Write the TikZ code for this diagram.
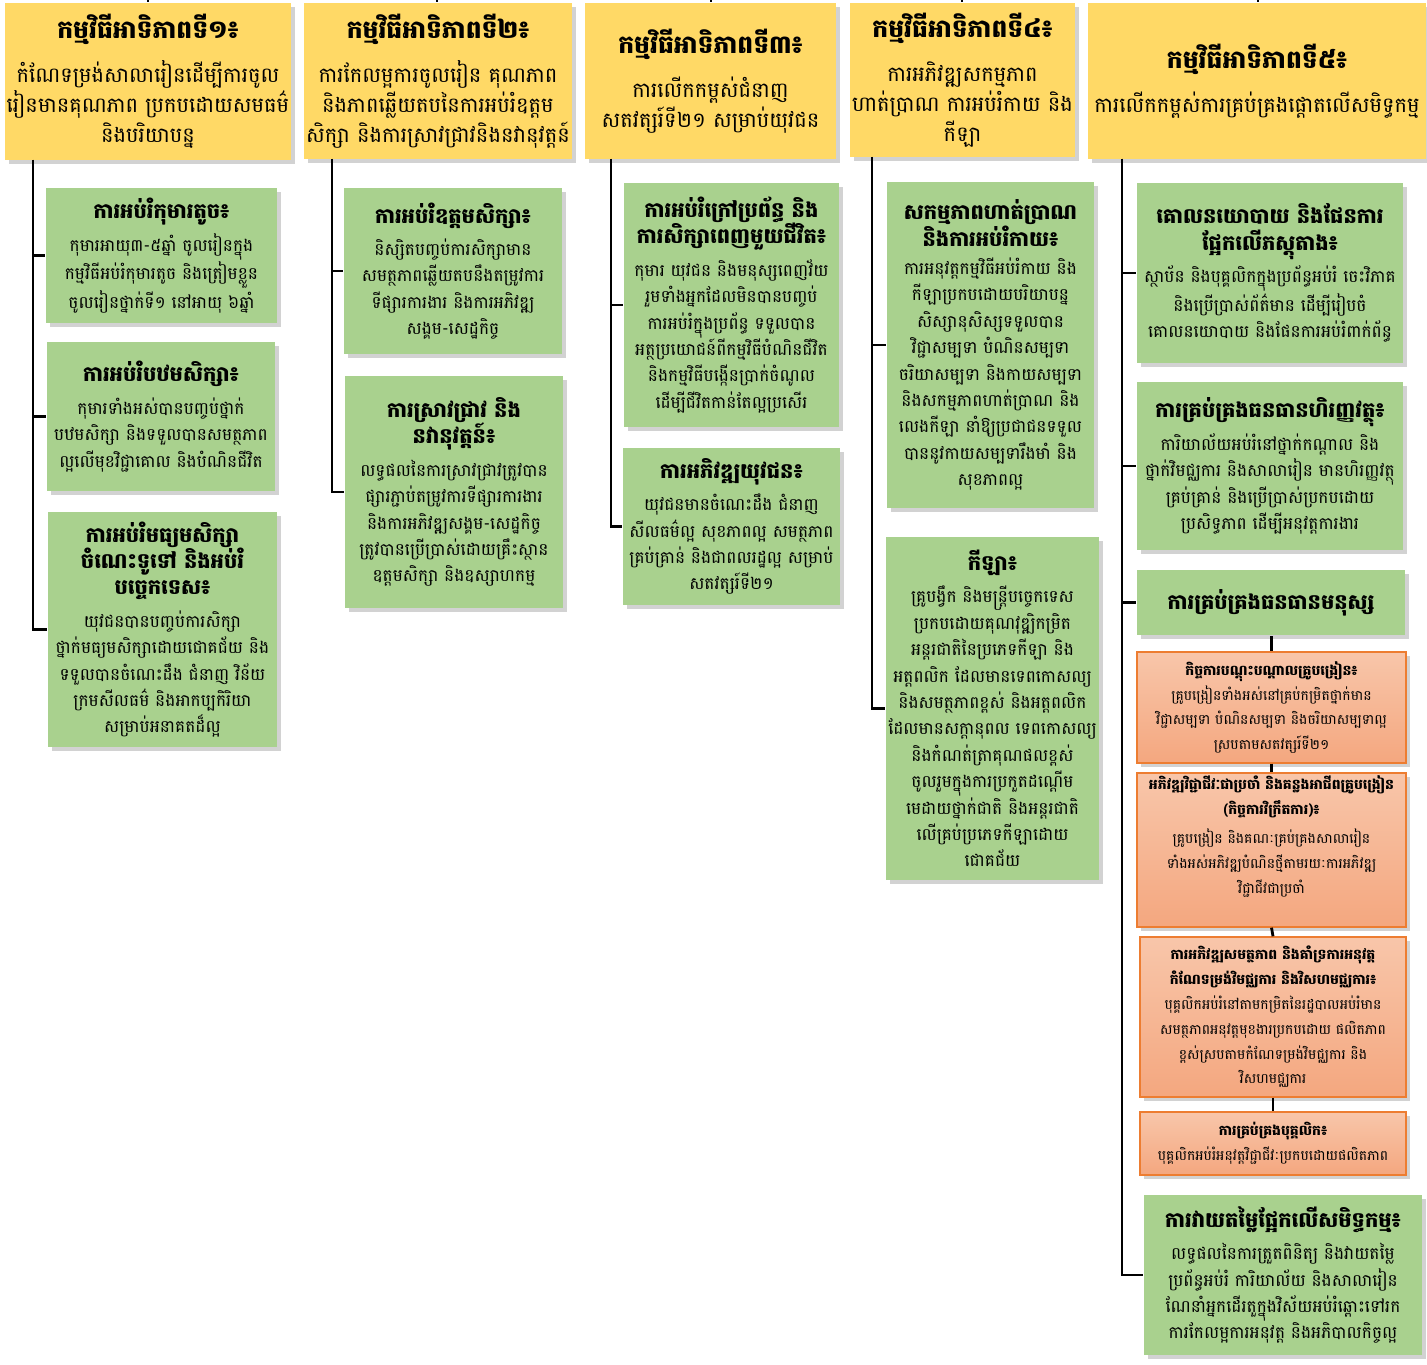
\documentclass[tikz,border=0pt]{standalone}
\usepackage{fontspec}
\setmainfont[Script=Khmer]{Battambang}
\usetikzlibrary{shadows}

\definecolor{prioyellow}{HTML}{FFD966}
\definecolor{goalgreen}{HTML}{A9D18E}
\definecolor{taskup}{HTML}{F8C6AA}
\definecolor{tasklow}{HTML}{F4A77F}
\definecolor{taskedge}{HTML}{ED7D31}

\newcommand\ttl[2][10.5]{{\fontsize{#1}{13}\selectfont\bfseries #2}}

\begin{document}
\begin{tikzpicture}[x=0.5pt,y=-0.5pt,line width=1.4pt,
    wh/.style 2 args={minimum width=#1*0.5pt,minimum height=#2*0.5pt},
    box/.style={align=center,inner sep=1pt,
      drop shadow={shadow xshift=2pt,shadow yshift=-2pt,opacity=0.35}},
    prio/.style={box,fill=prioyellow,font=\fontsize{10.5}{15}\selectfont},
    goal/.style={box,fill=goalgreen,font=\fontsize{8.5}{13.2}\selectfont},
    task/.style={box,draw=taskedge,line width=0.7pt,top color=taskup,
      bottom color=tasklow,font=\fontsize{7}{12.4}\selectfont}]
  \useasboundingbox[fill=white] (0,0) rectangle (1427,1364);

  % top row
  \node[prio,wh={286}{157}] (h1) at (148,81.5)
    {\ttl[12.5]{កម្មវិធីអាទិភាពទី១៖}\\[7pt]
     កំណែទម្រង់សាលារៀនដើម្បីការចូល\\
     រៀនមានគុណភាព ប្រកបដោយសមធម៌\\
     និងបរិយាបន្ន};
  \node[prio,wh={268}{156}] (h2) at (438,81)
    {\ttl[12.5]{កម្មវិធីអាទិភាពទី២៖}\\[7pt]
     ការកែលម្អការចូលរៀន គុណភាព\\
     និងភាពឆ្លើយតបនៃការអប់រំឧត្តម\\
     សិក្សា និងការស្រាវជ្រាវនិងនវានុវត្តន៍};
  \node[prio,wh={251}{156}] (h3) at (710.5,81)
    {\ttl[12.5]{កម្មវិធីអាទិភាពទី៣៖}\\[7pt]
     ការលើកកម្ពស់ជំនាញ\\
     សតវត្សរ៍ទី២១ សម្រាប់យុវជន};
  \node[prio,wh={225}{154}] (h4) at (962.5,80.5)
    {\ttl[12.5]{កម្មវិធីអាទិភាពទី៤៖}\\[7pt]
     ការអភិវឌ្ឍសកម្មភាព\\
     ហាត់ប្រាណ ការអប់រំកាយ និង\\
     កីឡា};
  \node[prio,wh={338}{156}] (h5) at (1257,81)
    {\ttl[12.5]{កម្មវិធីអាទិភាពទី៥៖}\\[7pt]
     ការលើកកម្ពស់ការគ្រប់គ្រងផ្តោតលើសមិទ្ធកម្ម};

  \foreach \h/\x in {h1/148,h2/437,h3/711,h4/962,h5/1258}{
    \coordinate (t\h) at (\x,0);
    \draw (t\h) -- (t\h |- \h.north);
  }

  % column 1
  \node[goal,wh={231}{135}] (g11) at (161.5,255.5)
    {\ttl{ការអប់រំកុមារតូច៖}\\[3pt]
     កុមារអាយុ៣-៥ឆ្នាំ ចូលរៀនក្នុង\\
     កម្មវិធីអប់រំកុមារតូច និងត្រៀមខ្លួន\\
     ចូលរៀនថ្នាក់ទី១ នៅអាយុ ៦ឆ្នាំ};
  \node[goal,wh={228}{149}] (g12) at (161,416.5)
    {\ttl{ការអប់រំបឋមសិក្សា៖}\\[3pt]
     កុមារទាំងអស់បានបញ្ចប់ថ្នាក់\\
     បឋមសិក្សា និងទទួលបានសមត្ថភាព\\
     ល្អលើមុខវិជ្ជាគោល និងបំណិនជីវិត};
  \node[goal,wh={229}{235}] (g13) at (162.5,629.5)
    {\ttl{ការអប់រំមធ្យមសិក្សា}\\
     \ttl{ចំណេះទូទៅ និងអប់រំ}\\
     \ttl{បច្ចេកទេស៖}\\[3pt]
     យុវជនបានបញ្ចប់ការសិក្សា\\
     ថ្នាក់មធ្យមសិក្សាដោយជោគជ័យ និង\\
     ទទួលបានចំណេះដឹង ជំនាញ វិន័យ\\
     ក្រមសីលធម៌ និងអាកប្បកិរិយា\\
     សម្រាប់អនាគតដ៏ល្អ};
  \coordinate (s1) at (33,160);
  \foreach \g in {g11,g12,g13}
    \draw (s1) |- (\g.west);

  % column 2
  \node[goal,wh={218}{166}] (g21) at (453,271)
    {\ttl{ការអប់រំឧត្តមសិក្សា៖}\\[3pt]
     និស្សិតបញ្ចប់ការសិក្សាមាន\\
     សមត្ថភាពឆ្លើយតបនឹងតម្រូវការ\\
     ទីផ្សារការងារ និងការអភិវឌ្ឍ\\
     សង្គម-សេដ្ឋកិច្ច};
  \node[goal,wh={218}{232}] (g22) at (454,492)
    {\ttl{ការស្រាវជ្រាវ និង}\\
     \ttl{នវានុវត្តន៍៖}\\[3pt]
     លទ្ធផលនៃការស្រាវជ្រាវត្រូវបាន\\
     ផ្សារភ្ជាប់តម្រូវការទីផ្សារការងារ\\
     និងការអភិវឌ្ឍសង្គម-សេដ្ឋកិច្ច\\
     ត្រូវបានប្រើប្រាស់ដោយគ្រឹះស្ថាន\\
     ឧត្តមសិក្សា និងឧស្សាហកម្ម};
  \coordinate (s2) at (332,159);
  \foreach \g in {g21,g22}
    \draw (s2) |- (\g.west);

  % column 3
  \node[goal,wh={215}{244}] (g31) at (731.5,305)
    {\ttl{ការអប់រំក្រៅប្រព័ន្ធ និង}\\
     \ttl{ការសិក្សាពេញមួយជីវិត៖}\\[3pt]
     កុមារ យុវជន និងមនុស្សពេញវ័យ\\
     រួមទាំងអ្នកដែលមិនបានបញ្ចប់\\
     ការអប់រំក្នុងប្រព័ន្ធ ទទួលបាន\\
     អត្ថប្រយោជន៍ពីកម្មវិធីបំណិនជីវិត\\
     និងកម្មវិធីបង្កើនប្រាក់ចំណូល\\
     ដើម្បីជីវិតកាន់តែល្អប្រសើរ};
  \node[goal,wh={217}{157}] (g32) at (731.5,526.5)
    {\ttl{ការអភិវឌ្ឍយុវជន៖}\\[3pt]
     យុវជនមានចំណេះដឹង ជំនាញ\\
     សីលធម៌ល្អ សុខភាពល្អ សមត្ថភាព\\
     គ្រប់គ្រាន់ និងជាពលរដ្ឋល្អ សម្រាប់\\
     សតវត្សរ៍ទី២១};
  \coordinate (s3) at (611,159);
  \foreach \g in {g31,g32}
    \draw (s3) |- (\g.west);

  % column 4
  \node[goal,wh={207}{326}] (g41) at (990.5,345)
    {\ttl{សកម្មភាពហាត់ប្រាណ}\\
     \ttl{និងការអប់រំកាយ៖}\\[1pt]
     ការអនុវត្តកម្មវិធីអប់រំកាយ និង\\
     កីឡាប្រកបដោយបរិយាបន្ន\\
     សិស្សានុសិស្សទទួលបាន\\
     វិជ្ជាសម្បទា បំណិនសម្បទា\\
     ចរិយាសម្បទា និងកាយសម្បទា\\
     និងសកម្មភាពហាត់ប្រាណ និង\\
     លេងកីឡា នាំឱ្យប្រជាជនទទួល\\
     បាននូវកាយសម្បទារឹងមាំ និង\\
     សុខភាពល្អ};
  \node[goal,wh={209}{343}] (g42) at (992.5,708.5)
    {\ttl{កីឡា៖}\\[3pt]
     គ្រូបង្វឹក និងមន្ត្រីបច្ចេកទេស\\
     ប្រកបដោយគុណវុឌ្ឍិកម្រិត\\
     អន្តរជាតិនៃប្រភេទកីឡា និង\\
     អត្តពលិក ដែលមានទេពកោសល្យ\\
     និងសមត្ថភាពខ្ពស់ និងអត្តពលិក\\
     ដែលមានសក្តានុពល ទេពកោសល្យ\\
     និងកំណត់ត្រាគុណផលខ្ពស់\\
     ចូលរួមក្នុងការប្រកួតដណ្តើម\\
     មេដាយថ្នាក់ជាតិ និងអន្តរជាតិ\\
     លើគ្រប់ប្រភេទកីឡាដោយ\\
     ជោគជ័យ};
  \coordinate (s4) at (872,157);
  \foreach \g in {g41,g42}
    \draw (s4) |- (\g.west);

  % column 5
  \node[goal,wh={266}{180}] (g51) at (1270,273)
    {\ttl{គោលនយោបាយ និងផែនការ}\\
     \ttl{ផ្អែកលើភស្តុតាង៖}\\[3pt]
     ស្ថាប័ន និងបុគ្គលិកក្នុងប្រព័ន្ធអប់រំ ចេះវិភាគ\\
     និងប្រើប្រាស់ព័ត៌មាន ដើម្បីរៀបចំ\\
     គោលនយោបាយ និងផែនការអប់រំពាក់ព័ន្ធ};
  \node[goal,wh={266}{168}] (g52) at (1270,466)
    {\ttl{ការគ្រប់គ្រងធនធានហិរញ្ញវត្ថុ៖}\\[3pt]
     ការិយាល័យអប់រំនៅថ្នាក់កណ្តាល និង\\
     ថ្នាក់វិមជ្ឈការ និងសាលារៀន មានហិរញ្ញវត្ថុ\\
     គ្រប់គ្រាន់ និងប្រើប្រាស់ប្រកបដោយ\\
     ប្រសិទ្ធភាព ដើម្បីអនុវត្តការងារ};
  \node[goal,wh={268}{65}] (g53) at (1271,602.5)
    {\ttl{ការគ្រប់គ្រងធនធានមនុស្ស}};
  \node[task,wh={269}{111}] (t1) at (1271.5,707.5)
    {{\bfseries កិច្ចការបណ្តុះបណ្តាលគ្រូបង្រៀន៖}\\
     គ្រូបង្រៀនទាំងអស់នៅគ្រប់កម្រិតថ្នាក់មាន\\
     វិជ្ជាសម្បទា បំណិនសម្បទា និងចរិយាសម្បទាល្អ\\
     ស្របតាមសតវត្សរ៍ទី២១};
  \node[task,wh={269}{154}] (t2) at (1271.5,850)
    {{\bfseries អភិវឌ្ឍវិជ្ជាជីវៈជាប្រចាំ និងគន្លងអាជីពគ្រូបង្រៀន}\\
     {\bfseries (កិច្ចការវិក្រឹតការ)៖}\\[2pt]
     គ្រូបង្រៀន និងគណៈគ្រប់គ្រងសាលារៀន\\
     ទាំងអស់អភិវឌ្ឍបំណិនថ្មីតាមរយៈការអភិវឌ្ឍ\\
     វិជ្ជាជីវជាប្រចាំ\\[3pt]};
  \node[task,wh={266}{160}] (t3) at (1273,1017)
    {{\bfseries ការអភិវឌ្ឍសមត្ថភាព និងគាំទ្រការអនុវត្ត}\\
     {\bfseries កំណែទម្រង់វិមជ្ឈការ និងវិសហមជ្ឈការ៖}\\
     បុគ្គលិកអប់រំនៅតាមកម្រិតនៃរដ្ឋបាលអប់រំមាន\\
     សមត្ថភាពអនុវត្តមុខងារប្រកបដោយ ផលិតភាព\\
     ខ្ពស់ស្របតាមកំណែទម្រង់វិមជ្ឈការ និង\\
     វិសហមជ្ឈការ};
  \node[task,wh={266}{63}] (t4) at (1273,1143.5)
    {{\bfseries ការគ្រប់គ្រងបុគ្គលិក៖}\\
     បុគ្គលិកអប់រំអនុវត្តវិជ្ជាជីវៈប្រកបដោយផលិតភាព};
  \node[goal,wh={278}{160}] (g54) at (1283,1275)
    {\ttl{ការវាយតម្លៃផ្អែកលើសមិទ្ធកម្ម៖}\\[3pt]
     លទ្ធផលនៃការត្រួតពិនិត្យ និងវាយតម្លៃ\\
     ប្រព័ន្ធអប់រំ ការិយាល័យ និងសាលារៀន\\
     ណែនាំអ្នកដើរតួក្នុងវិស័យអប់រំឆ្ពោះទៅរក\\
     ការកែលម្អការអនុវត្ត និងអភិបាលកិច្ចល្អ};
  \coordinate (s5) at (1122,159);
  \foreach \g in {g51,g52,g53,g54}
    \draw (s5) |- (\g.west);
  \draw (g53.south -| t1.north) -- (t1.north);
  \draw (t1.south) -- (t2.north);
  \draw (t2.south) -- (t3.north);
  \draw (t3.south) -- (t4.north);
\end{tikzpicture}
\end{document}
